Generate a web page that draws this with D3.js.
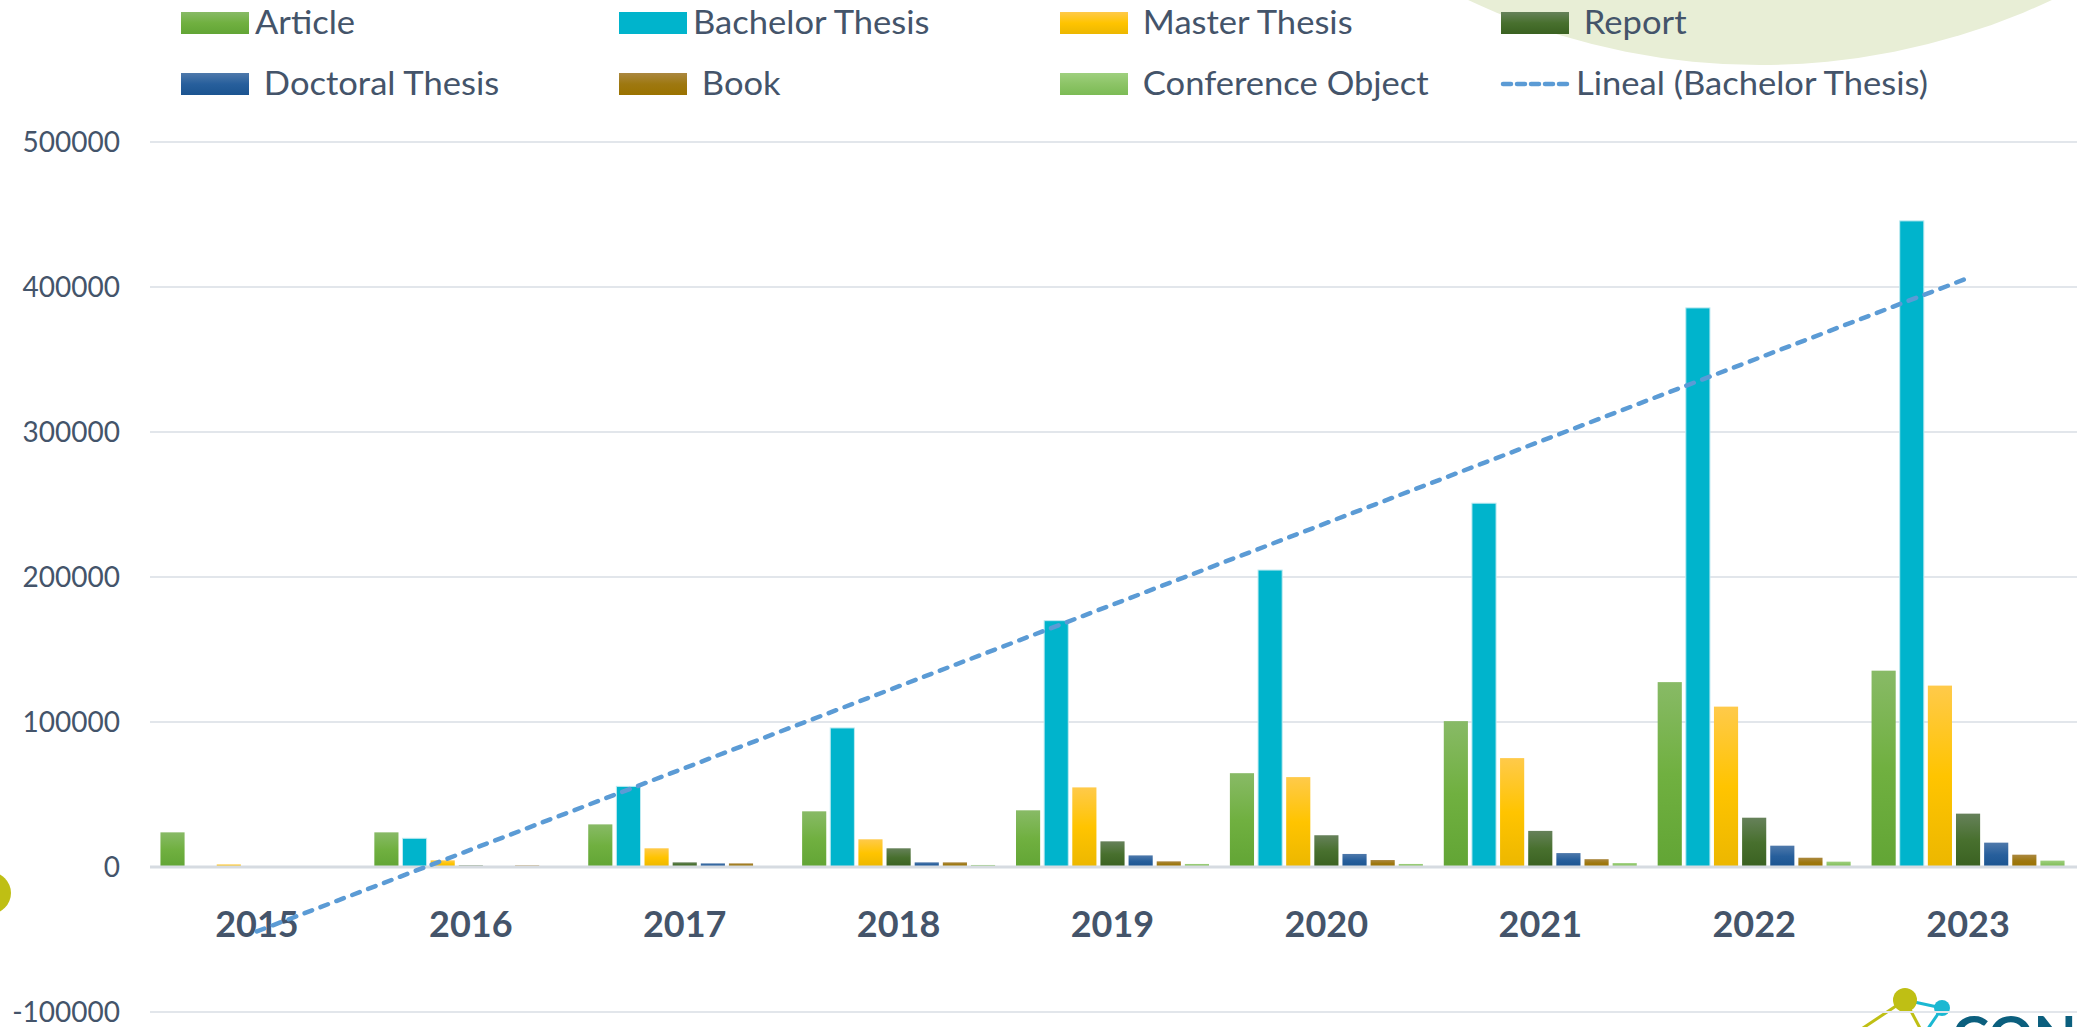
<!DOCTYPE html>
<html>
<head>
  <meta charset="UTF-8">
  <style>
    body { margin: 0; background: white; }
    svg text { font-family: Lato, sans-serif; fill: #44546a; }
    .grid line { stroke: #e2e6eb; stroke-width: 2; }
    .zero { stroke: #d6dbe1; stroke-width: 3; }
    .ylab { font-size: 28px; }
    .xlab { font-size: 36px; font-weight: bold; }
    .legend text { font-size: 32px; white-space: pre; }
  </style>
</head>
<body>
<svg id="chart" width="2077" height="1027"></svg>

<script src="https://d3js.org/d3.v7.min.js"></script>
<script>

// values
const years = ["2015", "2016", "2017", "2018", "2019", "2020", "2021", "2022", "2023"];
const article    = [23900, 23900, 29400, 38400, 39100, 64700, 100600, 127500, 135400];
const bachelor   = [0, 19800, 55600, 95900, 169900, 204800, 250900, 385600, 445600];
const master     = [1800, 4600, 12900, 19100, 54900, 62000, 75100, 110600, 125100];
const report     = [500, 1100, 3200, 12900, 17700, 21900, 24900, 34000, 36800];
const doctoral   = [500, 500, 2500, 3200, 8000, 9000, 9600, 14700, 16800];
const book       = [500, 1100, 2500, 3200, 3900, 4800, 5400, 6400, 8500];
const conference = [400, 400, 500, 1400, 2100, 2100, 2700, 3700, 4400];

const seriesNames = ["Article", "Bachelor Thesis", " Master Thesis", " Report",
                     " Doctoral Thesis", " Book", " Conference Object"];
const trendName = "Lineal (Bachelor Thesis)";
const yTicks = [-100000, 0, 100000, 200000, 300000, 400000, 500000];

const seriesValues = [article, bachelor, master, report, doctoral, book, conference];
// gradient stops top -> bottom
const seriesColors = [
  ["#88ba66", "#70b040", "#62a535"],
  ["#00b4cc", "#00b4cc", "#00b4cc"],
  ["#ffca4a", "#ffc400", "#ecb700"],
  ["#66815a", "#48702e", "#3a6121"],
  ["#4f79ab", "#275f9c", "#1b5490"],
  ["#ab8840", "#9e7810", "#9a7200"],
  ["#9fd07f", "#8cc466", "#7cbb55"]
];

const svg = d3.select("#chart");

// background decorations
svg.append("circle").attr("cx", 1760).attr("cy", -623).attr("r", 688).attr("fill", "#e8eed6");
svg.append("circle").attr("cx", -10).attr("cy", 893).attr("r", 21).attr("fill", "#bfbf14");

let logo = svg.append("g");
logo.append("line").attr("x1", 1905).attr("y1", 1000).attr("x2", 1942).attr("y2", 1008)
    .attr("stroke", "#1bb8d2").attr("stroke-width", 3);
logo.append("line").attr("x1", 1905).attr("y1", 1000).attr("x2", 1860).attr("y2", 1030)
    .attr("stroke", "#bfbf14").attr("stroke-width", 3);
logo.append("line").attr("x1", 1905).attr("y1", 1000).attr("x2", 1921).attr("y2", 1030)
    .attr("stroke", "#bfbf14").attr("stroke-width", 3);
logo.append("line").attr("x1", 1942).attr("y1", 1008).attr("x2", 1927).attr("y2", 1030)
    .attr("stroke", "#1bb8d2").attr("stroke-width", 3);
logo.append("circle").attr("cx", 1905).attr("cy", 1000).attr("r", 12).attr("fill", "#bfbf14");
logo.append("circle").attr("cx", 1942).attr("cy", 1008).attr("r", 8).attr("fill", "#1bb8d2");
logo.append("text").attr("x", 1952).attr("y", 1056)
    .style("font-size", "56px").style("font-weight", "bold").style("fill", "#0b5f7e")
    .text("CONCYTEC");

// scales
let x = d3.scaleBand().domain(years).range([150, 2075]).paddingInner(0.079).paddingOuter(0.0395);
let xs = d3.scaleBand().domain(d3.range(seriesNames.length)).range([0, x.bandwidth()]);
let y = d3.scaleLinear().domain([-100000, 500000]).range([1012, 142]);

// gradients
let defs = svg.append("defs");
seriesColors.forEach((c, i) => {
  let g = defs.append("linearGradient").attr("id", "grad" + i)
      .attr("x1", 0).attr("y1", 0).attr("x2", 0).attr("y2", 1);
  g.append("stop").attr("offset", "0%").attr("stop-color", c[0]);
  g.append("stop").attr("offset", "50%").attr("stop-color", c[1]);
  g.append("stop").attr("offset", "100%").attr("stop-color", c[2]);
});

// gridlines
svg.append("g").attr("class", "grid")
  .selectAll("line")
  .data(yTicks.filter(d => d != 0))
  .enter()
  .append("line")
  .attr("x1", 150).attr("x2", 2077)
  .attr("y1", d => y(d)).attr("y2", d => y(d));

// y axis labels
svg.append("g")
  .selectAll("text")
  .data(yTicks)
  .enter()
  .append("text")
  .attr("class", "ylab")
  .attr("x", 120)
  .attr("y", d => y(d))
  .attr("dy", "0.35em")
  .attr("text-anchor", "end")
  .text(d => d);

// bars
let groups = svg.append("g")
  .selectAll("g")
  .data(years)
  .enter()
  .append("g")
  .attr("transform", d => "translate(" + x(d) + ",0)");

groups.selectAll("rect")
  .data((yr, j) => seriesValues.map((vals, i) => ({ i: i, v: vals[j] })))
  .enter()
  .append("rect")
  .attr("x", d => xs(d.i) + 2)
  .attr("width", xs.bandwidth() - 4)
  .attr("y", d => y(d.v))
  .attr("height", d => y(0) - y(d.v))
  .attr("fill", d => "url(#grad" + d.i + ")")
  .attr("stroke", d => d.i == 1 ? "#bfeaf1" : "none")
  .attr("stroke-width", 1);

// zero line
svg.append("line").attr("class", "zero")
  .attr("x1", 150).attr("x2", 2077)
  .attr("y1", y(0)).attr("y2", y(0));

// year labels
svg.append("g")
  .selectAll("text")
  .data(years)
  .enter()
  .append("text")
  .attr("class", "xlab")
  .attr("x", d => x(d) + x.bandwidth() / 2)
  .attr("y", 937)
  .attr("text-anchor", "middle")
  .text(d => d);

// linear trend of bachelor thesis (least squares, like Excel)
let xi = d3.range(1, years.length + 1);
let mx = d3.mean(xi), my = d3.mean(bachelor);
let slope = d3.sum(xi, (v, k) => (v - mx) * (bachelor[k] - my)) / d3.sum(xi, v => (v - mx) * (v - mx));
let icpt = my - slope * mx;
let trend = [years[0], years[years.length - 1]].map((yr, k) => {
  let t = k == 0 ? 1 : years.length;
  return [x(yr) + x.bandwidth() / 2, y(icpt + slope * t)];
});

svg.append("path")
  .attr("d", d3.line()(trend))
  .attr("fill", "none")
  .attr("stroke", "#5b9bd5")
  .attr("stroke-width", 4.5)
  .attr("stroke-linecap", "round")
  .attr("stroke-dasharray", "8,9");

// legend (text a little stretched, the original font is taller and wider)
let legendCols = [181, 619, 1060, 1501];
let legendRows = [12, 73];
let legend = svg.append("g").attr("class", "legend");
seriesNames.forEach((name, i) => {
  let lx = legendCols[i % 4], ly = legendRows[Math.floor(i / 4)];
  legend.append("rect")
    .attr("x", lx).attr("y", ly).attr("width", 68).attr("height", 22)
    .attr("fill", "url(#grad" + i + ")");
  legend.append("text")
    .attr("transform", "translate(" + (lx + 74) + "," + (ly + 22) + ") scale(1.08,1)")
    .text(name);
});
legend.append("line")
  .attr("x1", 1503).attr("x2", 1569)
  .attr("y1", legendRows[1] + 11).attr("y2", legendRows[1] + 11)
  .attr("stroke", "#5b9bd5").attr("stroke-width", 4.5)
  .attr("stroke-linecap", "round")
  .attr("stroke-dasharray", "8,6");
legend.append("text")
  .attr("transform", "translate(1576," + (legendRows[1] + 22) + ") scale(1.08,1)")
  .text(trendName);

</script>
</body>
</html>
